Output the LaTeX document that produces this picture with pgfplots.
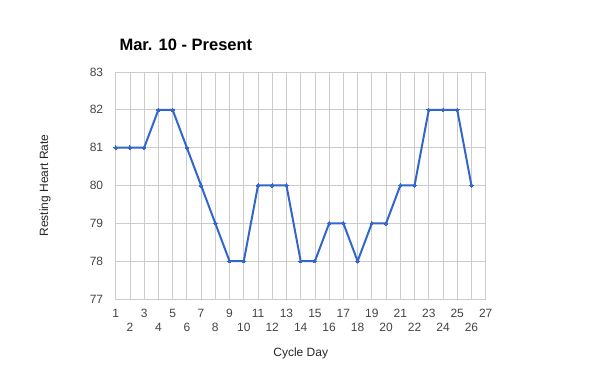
\documentclass[border=0pt]{standalone}
\usepackage{pgfplots}
\pgfplotsset{compat=1.18}
\usepackage{fontspec}
\setmainfont{Liberation Sans}
\definecolor{gridc}{HTML}{CCCCCC}
\definecolor{linec}{HTML}{3366CC}
\definecolor{tickc}{HTML}{444444}
\begin{document}
\begin{tikzpicture}
\begin{axis}[
  name=ax,
  scale only axis, width=370pt, height=227pt,
  xmin=1, xmax=27, ymin=77, ymax=83,
  xtick={1,3,...,27},
  extra x ticks={2,4,...,26},
  extra x tick style={tick label style={yshift=-14pt}},
  ytick={77,...,83},
  grid=major,
  major grid style={draw=gridc, line width=0.8pt},
  axis line style={draw=gridc, line width=0.8pt},
  major tick length=0pt,
  tick label style={font=\fontsize{12}{13}\selectfont, text=tickc},
  /pgf/number format/assume math mode=true,
  xticklabel style={yshift=-7pt},
  yticklabel style={xshift=-9pt},
  xlabel={Cycle Day}, ylabel={Resting Heart Rate},
  label style={font=\fontsize{12}{13}\selectfont, text=black!85},
  xlabel style={at={(axis description cs:0.5,0)}, anchor=center, yshift=-54pt},
  ylabel style={at={(axis description cs:0,0.5)}, anchor=center, yshift=70.7pt},
  clip=false,
]
\addplot[color=linec, line width=2pt, mark=*, mark size=1.8pt, mark options={line width=0pt}] coordinates {
(1,81)(2,81)(3,81)(4,82)(5,82)(6,81)(7,80)(8,79)(9,78)(10,78)
(11,80)(12,80)(13,80)(14,78)(15,78)(16,79)(17,79)(18,78)(19,79)(20,79)
(21,80)(22,80)(23,82)(24,82)(25,82)(26,80)};
\end{axis}
\node[anchor=base west, font=\bfseries\fontsize{16.5}{18}\selectfont] at ([shift={(0.3pt,21.5pt)}]ax.north west) {Mar. 10 - Present};
\pgfresetboundingbox
\path[use as bounding box] ([shift={(-115.7pt,-72pt)}]ax.south west) rectangle ([shift={(114.3pt,72pt)}]ax.north east);
\end{tikzpicture}
\end{document}
